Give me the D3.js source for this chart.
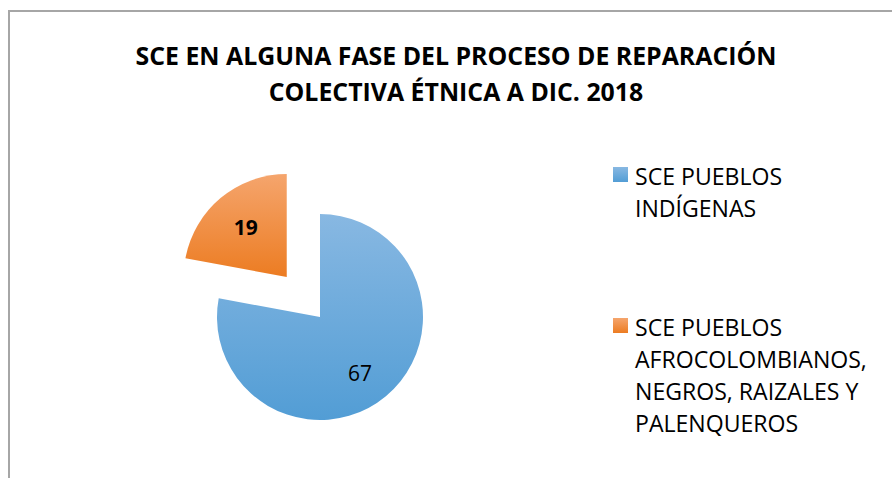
<!DOCTYPE html>
<html>
<head>
<meta charset="utf-8">
<script src="https://cdn.jsdelivr.net/npm/d3@7"></script>
<style>
  body { margin: 0; background: #fff; }
  text { font-family: "Open Sans", "DejaVu Sans", sans-serif; fill: #000; }
</style>
</head>
<body>
<div id="chart"></div>
<script>
var categories = ["SCE PUEBLOS INDÍGENAS",
                  "SCE PUEBLOS AFROCOLOMBIANOS, NEGROS, RAIZALES Y PALENQUEROS"];
var values = [67, 19];
var legendLines = [["SCE PUEBLOS", "INDÍGENAS"],
                   ["SCE PUEBLOS", "AFROCOLOMBIANOS,", "NEGROS, RAIZALES Y", "PALENQUEROS"]];
var titleLines = ["SCE EN ALGUNA FASE DEL PROCESO DE REPARACIÓN",
                  "COLECTIVA ÉTNICA A DIC. 2018"];

var width = 892,
    height = 478,
    cx = 320, cy = 317,
    radius = 103,
    explode = 52;

var gradStops = [["#88b8e2", "#529dd5"], ["#f5a56d", "#ec7c22"]];

var svg = d3.select("#chart").append("svg")
    .attr("width", width)
    .attr("height", height);

var defs = svg.append("defs");
gradStops.forEach(function(g, i) {
  var lg = defs.append("linearGradient")
      .attr("id", "grad" + i)
      .attr("x1", 0).attr("y1", 0).attr("x2", 0).attr("y2", 1);
  lg.append("stop").attr("offset", "0%").attr("stop-color", g[0]);
  lg.append("stop").attr("offset", "100%").attr("stop-color", g[1]);
});

// chart frame (only left and top edges show)
svg.append("path")
    .attr("d", "M9,478 V11 H892")
    .attr("fill", "none")
    .attr("stroke", "#a6a6a6")
    .attr("stroke-width", 2);

// fit text width to target
function fit(sel, target) {
  var w = sel.node().getComputedTextLength();
  var fs = parseFloat(sel.attr("font-size"));
  sel.attr("font-size", (fs * target / w).toFixed(2));
}

var title = svg.append("g");
var t1 = title.append("text").attr("x", 456).attr("y", 65)
    .attr("text-anchor", "middle").attr("font-weight", "bold")
    .attr("font-size", 22).text(titleLines[0]);
fit(t1, 641);
var t2 = title.append("text").attr("x", 456).attr("y", 101)
    .attr("text-anchor", "middle").attr("font-weight", "bold")
    .attr("font-size", t1.attr("font-size")).text(titleLines[1]);

var pie = d3.pie().sort(null).value(function(d) { return d; });
var arc = d3.arc().innerRadius(0).outerRadius(radius);
var arcs = pie(values);

var g = svg.append("g").attr("transform", "translate(" + cx + "," + cy + ")");

function offset(d, i) {
  if (i !== 1) return [0, 0];
  var a = (d.startAngle + d.endAngle) / 2;
  return [Math.sin(a) * explode, -Math.cos(a) * explode];
}

var slice = g.selectAll(".slice")
    .data(arcs)
  .enter().append("g")
    .attr("class", "slice")
    .attr("transform", function(d, i) {
      var o = offset(d, i);
      return "translate(" + o[0] + "," + o[1] + ")";
    });

slice.append("path")
    .attr("d", arc)
    .attr("fill", function(d, i) { return "url(#grad" + i + ")"; });

var labelPos = [[40, 64], [-41, -42]];
slice.append("text")
    .attr("x", function(d, i) { return labelPos[i][0]; })
    .attr("y", function(d, i) { return labelPos[i][1]; })
    .attr("text-anchor", "middle")
    .attr("font-size", 21)
    .attr("font-weight", function(d, i) { return i === 1 ? "bold" : "normal"; })
    .text(function(d) { return d.data; });

// legend
var legendY = [167, 318];
var legend = svg.selectAll(".legend")
    .data(categories)
  .enter().append("g")
    .attr("class", "legend")
    .attr("transform", function(d, i) { return "translate(613," + legendY[i] + ")"; });

legend.append("rect")
    .attr("width", 15)
    .attr("height", 15)
    .attr("fill", function(d, i) { return "url(#grad" + i + ")"; });

var legendFs = 20;
legend.each(function(d, i) {
  var lg = d3.select(this);
  legendLines[i].forEach(function(line, j) {
    lg.append("text")
        .attr("x", 22)
        .attr("y", 18 + j * 32)
        .attr("font-size", legendFs)
        .text(line);
  });
});
// match legend width to reference ("AFROCOLOMBIANOS," ~232px)
var probe = legend.filter(function(d, i) { return i === 1; }).selectAll("text").filter(function(d, j) { return j === 1; });
var pw = probe.node().getComputedTextLength();
legend.selectAll("text").attr("font-size", (legendFs * 232 / pw).toFixed(2));
</script>
</body>
</html>
